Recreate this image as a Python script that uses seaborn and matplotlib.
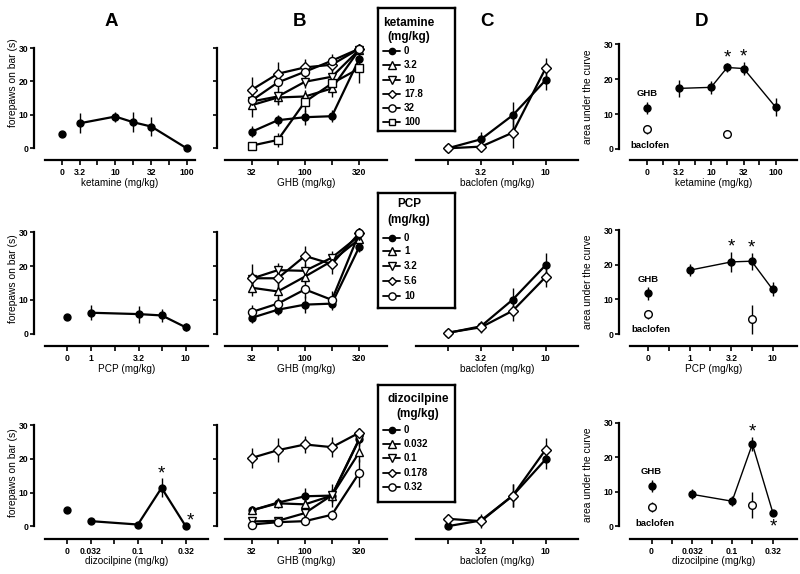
import numpy as np
import pandas as pd
import matplotlib
matplotlib.use("Agg")
import matplotlib.pyplot as plt
import seaborn as sns

sns.set_style("ticks")
plt.rcParams['font.family'] = ['Liberation Sans', 'DejaVu Sans']
plt.rcParams['text.color'] = 'black'
plt.rcParams['axes.edgecolor'] = 'black'
plt.rcParams['xtick.color'] = 'black'
plt.rcParams['ytick.color'] = 'black'
plt.rcParams['axes.labelcolor'] = 'black'

W, H = 800, 574

# ---------------- data ----------------
KET_DOSES = [0, 3.2, 10, 17.8, 32, 100]
PCP_DOSES = [0, 1, 3.2, 5.6, 10]
DIZ_DOSES = [0, 0.032, 0.1, 0.178, 0.32]
GHB_DOSES = [32, 56, 100, 178, 320]
BAC_DOSES = [1.78, 3.2, 5.6, 10]

# Panel A: forepaws on bar (s), antagonist alone
A_KET_MEAN = [4.3, 7.5, 9.5, 7.8, 6.5, 0.0]
A_KET_SEM = [0.7, 3.0, 1.5, 3.0, 2.8, 0.3]
A_PCP_MEAN = [4.8, 6.2, 5.8, 5.4, 1.9]
A_PCP_SEM = [0.8, 2.2, 2.5, 2.0, 1.2]
A_DIZ_MEAN = [4.8, 1.5, 0.5, 11.4, 0.0]
A_DIZ_SEM = [0.8, 0.3, 0.3, 2.8, 0.2]
A_DIZ_STARS = [0.178, 0.32]

# Panel B: GHB dose-effect curves with antagonist pretreatment
B_KET_LABELS = ['0', '3.2', '10', '17.8', '32', '100']
B_KET_MEANS = [
    [4.95, 8.4, 9.3, 9.6, 26.8],
    [12.9, 15.2, 15.5, 17.9, 29.5],
    [14.0, 15.5, 19.9, 21.4, 29.5],
    [17.5, 22.3, 24.2, 25.0, 29.8],
    [14.3, 19.7, 22.9, 26.2, 29.8],
    [0.8, 2.5, 13.9, 19.4, 23.9],
]
B_KET_SEMS = [
    [1.7, 1.7, 2.2, 1.8, 2.5],
    [3.5, 2.0, 2.0, 2.5, 0.5],
    [2.0, 2.5, 2.0, 2.0, 0.5],
    [3.8, 3.5, 2.5, 2.0, 0.3],
    [2.0, 2.0, 2.0, 2.0, 0.3],
    [0.5, 2.0, 3.0, 3.0, 4.5],
]
B_PCP_LABELS = ['0', '1', '3.2', '5.6', '10']
B_PCP_MEANS = [
    [4.7, 7.1, 8.6, 8.9, 25.7],
    [13.6, 12.5, 16.9, 21.5, 28.0],
    [16.3, 18.8, 18.6, 22.5, 29.0],
    [16.4, 16.4, 23.0, 20.6, 29.8],
    [6.4, 8.9, 13.1, 10.0, 29.8],
]
B_PCP_SEMS = [
    [1.5, 1.5, 2.5, 2.0, 1.5],
    [2.5, 2.5, 2.0, 2.0, 1.0],
    [2.0, 2.0, 2.0, 2.0, 0.5],
    [4.2, 3.0, 3.0, 3.0, 0.3],
    [2.0, 2.0, 2.5, 2.5, 0.3],
]
B_DIZ_LABELS = ['0', '0.032', '0.1', '0.178', '0.32']
B_DIZ_MEANS = [
    [4.7, 7.0, 8.9, 9.1, 25.8],
    [4.7, 6.8, 6.5, 9.1, 22.0],
    [1.4, 1.6, 3.9, 9.2, 26.0],
    [20.3, 22.6, 24.3, 23.5, 27.8],
    [0.5, 1.2, 1.5, 3.4, 15.9],
]
B_DIZ_SEMS = [
    [1.0, 1.5, 2.5, 2.0, 2.0],
    [1.0, 1.5, 1.5, 3.5, 3.0],
    [0.5, 0.5, 1.0, 2.0, 1.5],
    [3.0, 3.5, 2.5, 3.0, 1.5],
    [0.5, 0.5, 0.5, 1.5, 4.2],
]

# Panel C: baclofen dose-effect curves (vehicle vs one antagonist dose)
C_KET_MEANS = [[0.0, 2.7, 9.9, 20.4], [0.0, 0.5, 4.7, 24.0]]
C_KET_SEMS = [[0.3, 2.2, 4.0, 3.0], [0.3, 0.5, 4.5, 3.0]]
C_PCP_MEANS = [[0.2, 2.2, 10.1, 20.3], [0.3, 1.9, 6.8, 16.8]]
C_PCP_SEMS = [[0.3, 1.5, 3.5, 3.5], [0.3, 1.8, 3.0, 3.0]]
C_DIZ_MEANS = [[0.0, 1.7, 9.1, 19.9], [2.2, 1.5, 9.1, 22.8]]
C_DIZ_SEMS = [[0.3, 1.0, 3.5, 3.0], [1.0, 2.0, 3.5, 3.5]]

# Panel D: area under the curve
D_GHB_MEAN = [11.8, 11.7, 11.7]
D_GHB_SEM = [1.8, 1.8, 1.8]
D_BAC_MEAN = [5.6, 5.7, 5.5]
D_BAC_SEM = [1.3, 1.3, 1.5]
D_KET_DOSES = [3.2, 10, 17.8, 32, 100]
D_KET_MEAN = [17.4, 17.7, 23.4, 23.1, 12.0]
D_KET_SEM = [2.5, 1.8, 1.3, 1.8, 2.5]
D_KET_BAC = (17.8, 4.2, 0.8)
D_KET_STARS = [17.8, 32]
D_PCP_DOSES = [1, 3.2, 5.6, 10]
D_PCP_MEAN = [18.4, 20.8, 21.0, 12.9]
D_PCP_SEM = [1.8, 2.8, 2.5, 2.0]
D_PCP_BAC = (5.6, 4.3, 4.2)
D_PCP_STARS = [3.2, 5.6]
D_DIZ_DOSES = [0.032, 0.1, 0.178, 0.32]
D_DIZ_MEAN = [9.2, 7.2, 23.8, 3.7]
D_DIZ_SEM = [1.5, 1.5, 2.0, 0.8]
D_DIZ_BAC = (0.178, 6.1, 3.8)
D_DIZ_STARS_UP = [0.178]
D_DIZ_STARS_DOWN = [0.32]

# ---------------- helpers ----------------
fig = plt.figure(figsize=(8, 5.74), dpi=100)
PT = 72.0 / 100.0  # points per pixel


def lg(d):
    return float(np.log10(d))


def xpos(doses, zero):
    return [zero if d == 0 else lg(d) for d in doses]


def make_panel(xsp, xmap, ymap, xs_y, yspine_x=None, top_pad=7):
    x0, x1 = xsp
    (d1, p1), (d2, p2) = xmap
    y30, y0 = ymap
    s = (p2 - p1) / (d2 - d1)
    k = (y0 - y30) / 30.0
    ytop = y30 - top_pad
    ax = fig.add_axes([x0 / W, 1 - xs_y / H, (x1 - x0) / W, (xs_y - ytop) / H])
    ax.patch.set_alpha(0)
    info = dict(xlim=(d1 + (x0 - p1) / s, d1 + (x1 - p1) / s),
                ylim=(-(xs_y - y0) / k, (y0 - ytop) / k),
                x0=x0, x1=x1, xs_y=xs_y, ytop=ytop, k=k, s=s, yspine_x=yspine_x)
    return ax, info


def finish(ax, info, major, major_labels, minor, xlabel, label_dy=23,
           ylabels=None, ylabel=None, ylabel_x=None, ylabel_yc=None):
    ax.set_xlim(*info['xlim'])
    ax.set_ylim(*info['ylim'])
    for sp in ['top', 'right']:
        ax.spines[sp].set_visible(False)
    ax.spines['bottom'].set_linewidth(1.6)
    ax.set_xticks(major, major_labels, fontsize=6.2, fontweight='bold')
    ax.set_xticks(minor, minor=True)
    ax.tick_params(axis='x', which='both', direction='out', length=3.5, width=1.2, pad=2.5)
    if info['yspine_x'] is None:
        ax.spines['left'].set_visible(False)
        ax.set_yticks([])
    else:
        ax.spines['left'].set_linewidth(1.6)
        ax.spines['left'].set_position(('outward', (info['x0'] - info['yspine_x']) * PT))
        ax.spines['left'].set_bounds(0, 30)
        labs = ylabels if ylabels is not None else [''] * 4
        ax.set_yticks([0, 10, 20, 30], labs, fontsize=6.2, fontweight='bold')
        ax.tick_params(axis='y', which='both', direction='out', length=3, width=1.2, pad=1)
    hpx = info['xs_y'] - info['ytop']
    wpx = info['x1'] - info['x0']
    ax.set_xlabel(xlabel, fontsize=7.2)
    ax.xaxis.label.set_va('center')
    ax.xaxis.set_label_coords(0.5, -label_dy / hpx)
    if ylabel is not None:
        ax.set_ylabel(ylabel, fontsize=7.4)
        ax.yaxis.label.set_va('center')
        ax.yaxis.set_label_coords((ylabel_x - info['x0']) / wpx,
                                  (info['xs_y'] - ylabel_yc) / hpx)
    else:
        ax.set_ylabel('')


def series(ax, x, y, e, marker='o', filled=True, ms=5, lw=1.6, z=3):
    face = 'black' if filled else 'white'
    ax.errorbar(x, y, yerr=e, fmt='none', ecolor='black', elinewidth=1.0,
                capsize=0, zorder=z - 0.5)
    df = pd.DataFrame({'x': x, 'y': y})
    sns.lineplot(data=df, x='x', y='y', ax=ax, color='black', linewidth=lw,
                 marker=marker, markersize=ms, markerfacecolor=face,
                 markeredgecolor='black', markeredgewidth=1.0, zorder=z,
                 clip_on=False, legend=False, sort=False, estimator=None)


STYLES5 = [('o', True, 5), ('^', False, 6), ('v', False, 6), ('D', False, 4.6), ('o', False, 5.8)]
STYLES6 = STYLES5 + [('s', False, 5.2)]


def star(ax, x, y, k, fs=13.5):
    fpx = fs / PT
    ax.text(x, y - 0.37 * fpx / k, '*', ha='center', va='baseline',
            fontsize=fs, clip_on=False)


def legend_box(y0, y1, title_lines, title_ys, title_x, labels, label_ys, styles):
    x0, x1 = 378, 454.5
    lax = fig.add_axes([x0 / W, 1 - y1 / H, (x1 - x0) / W, (y1 - y0) / H])
    lax.set_xlim(x0, x1)
    lax.set_ylim(y1, y0)
    for sp in lax.spines.values():
        sp.set_visible(True)
        sp.set_linewidth(1.7)
        sp.set_color('black')
    lax.set_xticks([])
    lax.set_yticks([])
    lax.set_facecolor('white')
    for t, ty in zip(title_lines, title_ys):
        lax.text(title_x, ty, t, ha='center', va='center', fontsize=8.5, fontweight='bold')
    for lab, ly, (m, filled, ms) in zip(labels, label_ys, styles):
        lax.plot([383, 400], [ly, ly], color='black', lw=1.3)
        lax.plot([391.5], [ly], marker=m, ms=ms * 0.9, mfc='black' if filled else 'white',
                 mec='black', mew=1.0, ls='none')
        lax.text(404, ly, lab, ha='left', va='center', fontsize=7, fontweight='bold')


# ---------------- rows ----------------
ROWS = [
    dict(abc=(48, 148.3), d=(44.5, 149), xs=160,
         A_x=(45, 195), A_map=((lg(3.2), 80), (lg(100), 186.7)), A_zero=lg(3.2) - 0.25,
         D_map=((lg(3.2), 679), (lg(100), 775.7)), D_zero=lg(3.2) - 0.5,
         ylab_c=83),
    dict(abc=(232.3, 333.7), d=(230, 334), xs=346,
         A_x=(45, 208), A_map=((lg(1), 91), (lg(10), 185.7)), A_zero=lg(1) - 0.25,
         D_map=((lg(1), 689.5), (lg(10), 772.5)), D_zero=lg(1) - 0.5,
         ylab_c=279),
    dict(abc=(425.3, 526.2), d=(422.7, 526), xs=538.5,
         A_x=(45, 208), A_map=((lg(0.032), 91), (lg(0.32), 185.7)), A_zero=lg(0.032) - 0.25,
         D_map=((lg(0.032), 692), (lg(0.32), 773)), D_zero=lg(0.032) - 0.5,
         ylab_c=473),
]

A_DATA = [(KET_DOSES, A_KET_MEAN, A_KET_SEM, 'ketamine (mg/kg)',
           ['0', '3.2', '10', '32', '100'], [5.6, 17.8, 56]),
          (PCP_DOSES, A_PCP_MEAN, A_PCP_SEM, 'PCP (mg/kg)',
           ['0', '1', '3.2', '10'], [1.78, 5.6]),
          (DIZ_DOSES, A_DIZ_MEAN, A_DIZ_SEM, 'dizocilpine (mg/kg)',
           ['0', '0.032', '0.1', '0.32'], [0.056, 0.178])]
B_DATA = [(B_KET_MEANS, B_KET_SEMS, STYLES6), (B_PCP_MEANS, B_PCP_SEMS, STYLES5),
          (B_DIZ_MEANS, B_DIZ_SEMS, STYLES5)]
C_DATA = [(C_KET_MEANS, C_KET_SEMS), (C_PCP_MEANS, C_PCP_SEMS), (C_DIZ_MEANS, C_DIZ_SEMS)]
D_DATA = [(D_KET_DOSES, D_KET_MEAN, D_KET_SEM, D_KET_BAC),
          (D_PCP_DOSES, D_PCP_MEAN, D_PCP_SEM, D_PCP_BAC),
          (D_DIZ_DOSES, D_DIZ_MEAN, D_DIZ_SEM, D_DIZ_BAC)]

for r, row in enumerate(ROWS):
    # ---- A ----
    doses, mean, sem, xl, maj_lab, minor_d = A_DATA[r]
    ax, info = make_panel(row['A_x'], row['A_map'], row['abc'], row['xs'], yspine_x=34)
    xs = xpos(doses, row['A_zero'])
    series(ax, xs[:1], mean[:1], sem[:1])
    series(ax, xs[1:], mean[1:], sem[1:])
    maj = [row['A_zero'] if t == '0' else lg(float(t)) for t in maj_lab]
    finish(ax, info, maj, maj_lab, [lg(m) for m in minor_d], xl,
           ylabels=['0', '10', '20', '30'], ylabel='forepaws on bar (s)',
           ylabel_x=13, ylabel_yc=row['ylab_c'])
    if r == 2:
        i = doses.index(0.178)
        star(ax, lg(0.178), mean[i] + sem[i] + 2.1, info['k'])
        j = doses.index(0.32)
        star(ax, lg(0.32) + 4.5 / info['s'], mean[j] + 2.4, info['k'])

    # ---- B ----
    means, sems, styles = B_DATA[r]
    ax, info = make_panel((225, 387), ((lg(32), 251.7), (lg(320), 359.3)), row['abc'],
                          row['xs'], yspine_x=217.3)
    xg = xpos(GHB_DOSES, 0)
    for si, (m_, e_) in enumerate(zip(means, sems)):
        mk, filled, ms = styles[si]
        series(ax, xg, m_, e_, marker=mk, filled=filled, ms=ms, z=3 + si * 0.1)
    finish(ax, info, [lg(32), lg(100), lg(320)], ['32', '100', '320'], [lg(56), lg(178)],
           'GHB (mg/kg)')

    # ---- C ----
    means, sems = C_DATA[r]
    ax, info = make_panel((416, 578), ((lg(3.2), 481), (lg(10), 545.7)), row['abc'],
                          row['xs'], yspine_x=None)
    xb = xpos(BAC_DOSES, 0)
    series(ax, xb, means[0], sems[0], marker='o', filled=True, ms=5)
    series(ax, xb, means[1], sems[1], marker='D', filled=False, ms=4.6, z=3.2)
    finish(ax, info, [lg(3.2), lg(10)], ['3.2', '10'], [lg(1.78), lg(5.6)],
           'baclofen (mg/kg)')

    # ---- D ----
    dd, dm, de, bac = D_DATA[r]
    ax, info = make_panel((630, 797), row['D_map'], row['d'], row['xs'], yspine_x=619)
    z0 = row['D_zero']
    series(ax, [z0], [D_GHB_MEAN[r]], [D_GHB_SEM[r]], marker='o', filled=True, ms=5)
    series(ax, [z0], [D_BAC_MEAN[r]], [D_BAC_SEM[r]], marker='o', filled=False, ms=5.5)
    series(ax, xpos(dd, z0), dm, de, marker='o', filled=True, ms=5, lw=1.0)
    series(ax, [lg(bac[0])], [bac[1]], [bac[2]], marker='o', filled=False, ms=5.5)
    ax.text(z0, D_GHB_MEAN[r] + D_GHB_SEM[r] + 2.2, 'GHB', ha='center', va='center',
            fontsize=6.8, fontweight='bold')
    ax.text(z0 + 3 / info['s'], D_BAC_MEAN[r] - D_BAC_SEM[r] - 3.2, 'baclofen',
            ha='center', va='center', fontsize=6.8, fontweight='bold')
    if r == 0:
        maj_lab = ['0', '3.2', '10', '32', '100']
        minor = [z0 + 0.25, lg(5.6), lg(17.8), lg(56)]
        xl = 'ketamine (mg/kg)'
        for sd in D_KET_STARS:
            i = dd.index(sd)
            star(ax, lg(sd), dm[i] + de[i] + 2.2, info['k'])
    elif r == 1:
        maj_lab = ['0', '1', '3.2', '10']
        minor = [z0 + 0.25, lg(1.78), lg(5.6)]
        xl = 'PCP (mg/kg)'
        for sd in D_PCP_STARS:
            i = dd.index(sd)
            star(ax, lg(sd), dm[i] + de[i] + 2.1, info['k'])
    else:
        maj_lab = ['0', '0.032', '0.1', '0.32']
        minor = [z0 + 0.25, lg(0.056), lg(0.178)]
        xl = 'dizocilpine (mg/kg)'
        for sd in D_DIZ_STARS_UP:
            i = dd.index(sd)
            star(ax, lg(sd), dm[i] + de[i] + 2.1, info['k'])
        for sd in D_DIZ_STARS_DOWN:
            i = dd.index(sd)
            star(ax, lg(sd), dm[i] - de[i] - 2.5, info['k'])
    maj = [z0 if t == '0' else lg(float(t)) for t in maj_lab]
    finish(ax, info, maj, maj_lab, minor, xl, ylabels=['0', '10', '20', '30'],
           ylabel='area under the curve', ylabel_x=588,
           ylabel_yc=(row['d'][0] + row['d'][1]) / 2)

# ---------------- legends ----------------
legend_box(8, 131.5, ['ketamine', '(mg/kg)'], [23.3, 37.5], 409, B_KET_LABELS,
           [51, 65.4, 79.7, 94, 108, 122.3], STYLES6)
legend_box(192.7, 308.3, ['PCP', '(mg/kg)'], [204, 220], 409, B_PCP_LABELS,
           [238.5, 251.5, 266.5, 281, 296], STYLES5)
legend_box(385, 502, ['dizocilpine', '(mg/kg)'], [399.3, 413.5], 418, B_DIZ_LABELS,
           [430, 444, 458.3, 472.7, 487.3], STYLES5)

# ---------------- panel letters ----------------
for letter, xc in zip('ABCD', [111, 300, 487, 702]):
    fig.text(xc / W, 1 - 22 / H, letter, ha='center', va='center', fontsize=13.5,
             fontweight='bold')

fig.savefig('out.png', dpi=100)
